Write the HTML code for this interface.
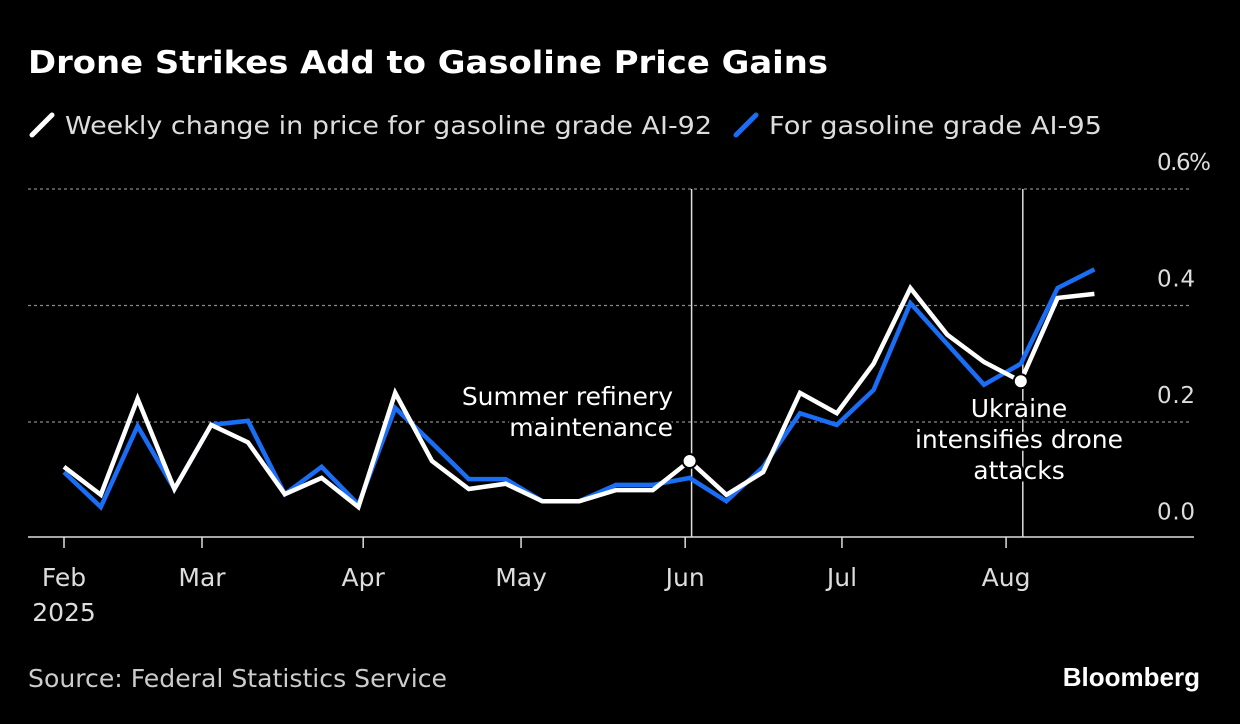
<!DOCTYPE html>
<html><head><meta charset="utf-8"><style>
body{margin:0;background:#000;width:1240px;height:720px;overflow:hidden;font-family:"DejaVu Sans",sans-serif;color:#ddd}
</style></head><body>
<svg width="1240" height="720" font-family="DejaVu Sans, sans-serif">
<text x="28" y="73" fill="#fff" font-size="31" font-weight="bold" textLength="800" lengthAdjust="spacingAndGlyphs">Drone Strikes Add to Gasoline Price Gains</text>
<g>
<line x1="32" y1="135" x2="52" y2="115" stroke="#fff" stroke-width="5" stroke-linecap="round"/>
<text x="65" y="134" fill="#ddd" font-size="25" textLength="647" lengthAdjust="spacingAndGlyphs">Weekly change in price for gasoline grade AI-92</text>
<line x1="736" y1="135" x2="756" y2="115" stroke="#1a6ef5" stroke-width="5" stroke-linecap="round"/>
<text x="769" y="134" fill="#ddd" font-size="25" textLength="333" lengthAdjust="spacingAndGlyphs">For gasoline grade AI-95</text>
</g>
<g id="grid"></g><g id="ann"></g><g id="lines"></g><g id="xt"></g>
<text x="28" y="687" fill="#ccc" font-size="25" textLength="419" lengthAdjust="spacingAndGlyphs">Source: Federal Statistics Service</text>
<text x="1200" y="686" fill="#fff" font-size="26" font-weight="bold" font-family="Liberation Sans, sans-serif" text-anchor="end">Bloomberg</text>
</svg>
<script>
const ai92=[0.123,0.075,0.24,0.085,0.195,0.165,0.076,0.104,0.054,0.25,0.133,0.085,0.094,0.064,0.064,0.083,0.083,0.133,0.075,0.114,0.25,0.215,0.30,0.43,0.35,0.303,0.27,0.413,0.42];
const ai95=[0.114,0.054,0.193,0.085,0.195,0.202,0.076,0.123,0.058,0.224,0.164,0.102,0.102,0.064,0.064,0.092,0.092,0.104,0.064,0.123,0.215,0.195,0.255,0.404,0.334,0.264,0.30,0.43,0.462];
const yTicks=[0,0.2,0.4,0.6];
const yLabels=["0.0","0.2","0.4","0.6%"];
const xTickIdx=[0,3.75,8.13,12.42,16.88,21.14,25.6];
const xTickLabels=["Feb","Mar","Apr","May","Jun","Jul","Aug"];
const annIdx=[17,26];
const NS="http://www.w3.org/2000/svg";
const X=i=>64+i*36.8, Y=v=>538.5-v*582.5;
function mk(t,a,p){const e=document.createElementNS(NS,t);for(const k in a)e.setAttribute(k,a[k]);document.getElementById(p).appendChild(e);return e;}
yTicks.forEach((v,i)=>{
 if(v>0){const g=mk('line',{x1:28,x2:1192,y1:Y(v),y2:Y(v),stroke:'#888','stroke-dasharray':'3,3','stroke-width':1.3},'grid');
 
 }
 const t=mk('text',{x:1157,y:Y(v)-19,fill:'#ddd','font-size':23,'text-anchor':'start'},'grid');t.textContent=yLabels[i];
 if(i===3)t.setAttribute('textLength','54');
 else t.setAttribute('textLength','38');
 
 
});
const ax=mk('line',{x1:28,x2:1194,y1:537,y2:537,stroke:'#ddd','stroke-width':1.5},'grid');


xTickIdx.forEach((ix,i)=>{
 const l=mk('line',{x1:X(ix),x2:X(ix),y1:537,y2:548,stroke:'#ddd','stroke-width':1.5},'xt');
 
 
 const t=mk('text',{x:X(ix),y:586,fill:'#ddd','font-size':25,'text-anchor':'middle'},'xt');t.textContent=xTickLabels[i];
 
 
});
const yr=mk('text',{x:X(0),y:621,fill:'#ddd','font-size':25,'text-anchor':'middle'},'xt');yr.textContent='2025';


annIdx.forEach(ix=>{
 const l=mk('line',{x1:X(ix)+2,x2:X(ix)+2,y1:189,y2:537,stroke:'#ddd','stroke-width':1.5},'ann');
 
 
});
[[ai95,'#1a6ef5','line-ai95'],[ai92,'#fff','line-ai92']].forEach(([d,c,n])=>{
 const p=mk('polyline',{points:d.map((v,i)=>X(i)+','+Y(v)).join(' '),fill:'none',stroke:c,'stroke-width':4.5,'stroke-linejoin':'miter'},'lines');
 
 
});
annIdx.forEach(ix=>{
 const c=mk('circle',{cx:X(ix),cy:Y(ai92[ix]),r:7,fill:'#fff',stroke:'#000','stroke-width':2},'lines');
 
 
});
function txt(lines,x,y,anchor,name){lines.forEach((s,i)=>{const t=mk('text',{x:x,y:y+i*31,fill:'#fff','font-size':25,'text-anchor':anchor,stroke:'#000','stroke-width':5,'paint-order':'stroke'},'lines');t.textContent=s;
 
 });}
txt(["Summer refinery","maintenance"],673,405,'end','annotation-refinery');
txt(["Ukraine","intensifies drone","attacks"],1019,417,'middle','annotation-drone');
</script>
</body></html>
